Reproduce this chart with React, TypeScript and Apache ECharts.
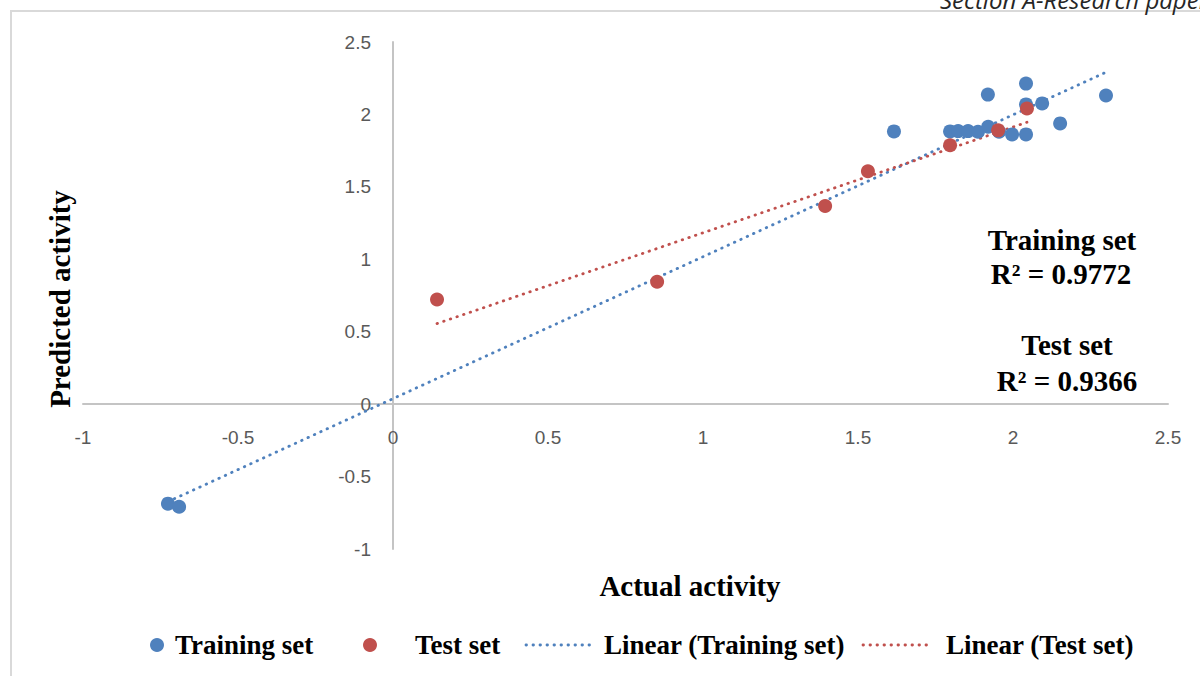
import React, { useEffect, useRef } from "react";
import * as echarts from "echarts";

// ---- data ----
const trainingX = [-0.726, -0.69, 1.616, 1.797, 1.823, 1.855, 1.887, 1.92, 1.919, 1.955, 1.997, 2.042, 2.042, 2.042, 2.094, 2.152, 2.3];
const trainingY = [-0.687, -0.708, 1.883, 1.883, 1.885, 1.885, 1.88, 1.915, 2.137, 1.88, 1.862, 1.862, 2.213, 2.069, 2.076, 1.938, 2.131];
const testX = [0.142, 0.852, 1.394, 1.532, 1.797, 1.952, 2.045];
const testY = [0.722, 0.845, 1.368, 1.608, 1.787, 1.89, 2.041];

const seriesNames = ["Training set", "Test set", "Linear (Training set)", "Linear (Test set)"];
const annotationLines = ["Training set", "R² = 0.9772", "Test set", "R² = 0.9366"];
const xAxisTitle = "Actual activity";
const yAxisTitle = "Predicted activity";
const headerText = "Section A-Research paper";
const axisMin = -1;
const axisMax = 2.5;
const axisStep = 0.5;

const BLUE = "#4f81bd";
const RED = "#c0504d";
const SERIF = "'Liberation Serif', 'Times New Roman', serif";
const SANS = "'Liberation Sans Narrow', 'Liberation Sans', sans-serif";

// grid geometry (pixels)
const GRID_LEFT = 83;
const GRID_RIGHT = 32;
const GRID_TOP = 42;
const GRID_BOTTOM = 127;
const CHART_W = 1200;
const CHART_H = 676;

function fitLine(xs: number[], ys: number[]): number[][] {
  const n = xs.length;
  const mx = xs.reduce((a, b) => a + b, 0) / n;
  const my = ys.reduce((a, b) => a + b, 0) / n;
  let sxy = 0;
  let sxx = 0;
  for (let i = 0; i < n; i++) {
    sxy += (xs[i] - mx) * (ys[i] - my);
    sxx += (xs[i] - mx) * (xs[i] - mx);
  }
  const slope = sxy / sxx;
  const icpt = my - slope * mx;
  const x0 = Math.min(...xs);
  const x1 = Math.max(...xs);
  return [
    [x0, icpt + slope * x0],
    [x1, icpt + slope * x1],
  ];
}

export default function App() {
  const ref = useRef<HTMLDivElement>(null);
  useEffect(() => {
    if (!ref.current) return;
    const chart = echarts.init(ref.current, null, { renderer: "svg" });
    const trainPts = trainingX.map((x, i) => [x, trainingY[i]]);
    const testPts = testX.map((x, i) => [x, testY[i]]);
    const dotted = { width: 2.8, type: [0.5, 6.5] as any, cap: "round" as any };

    // offsets that place each axis at the other axis' zero
    const plotW = CHART_W - GRID_LEFT - GRID_RIGHT;
    const plotH = CHART_H - GRID_TOP - GRID_BOTTOM;
    const yAxisOffset = -((0 - axisMin) / (axisMax - axisMin)) * plotW;
    const xAxisOffset = -((0 - axisMin) / (axisMax - axisMin)) * plotH;

    const legendY = 645;
    const legendText = {
      fontFamily: SERIF,
      fontWeight: "bold" as any,
      fontSize: 27,
      fill: "#000",
      verticalAlign: "middle" as any,
      align: "left" as any,
    };

    chart.setOption({
      animation: false,
      backgroundColor: "#fff",
      grid: { left: GRID_LEFT, right: GRID_RIGHT, top: GRID_TOP, bottom: GRID_BOTTOM, containLabel: false },
      xAxis: {
        type: "value",
        position: "bottom",
        offset: xAxisOffset,
        min: axisMin,
        max: axisMax,
        interval: axisStep,
        axisLine: { show: true, onZero: false, lineStyle: { color: "#c4c4c4", width: 2 } },
        axisTick: { show: false },
        splitLine: { show: false },
        axisLabel: { margin: 24, color: "#595959", fontSize: 19, fontFamily: SANS, showMinLabel: true, showMaxLabel: true },
      },
      yAxis: {
        type: "value",
        position: "left",
        offset: yAxisOffset,
        min: axisMin,
        max: axisMax,
        interval: axisStep,
        axisLine: { show: true, onZero: false, lineStyle: { color: "#c4c4c4", width: 2 } },
        axisTick: { show: false },
        splitLine: { show: false },
        axisLabel: { margin: 22, color: "#595959", fontSize: 19, fontFamily: SANS, showMinLabel: true, showMaxLabel: true },
      },
      series: [
        {
          name: seriesNames[2],
          type: "line",
          data: fitLine(trainingX, trainingY),
          symbol: "none",
          lineStyle: { color: BLUE, ...dotted },
          z: 1,
        },
        {
          name: seriesNames[3],
          type: "line",
          data: fitLine(testX, testY),
          symbol: "none",
          lineStyle: { color: RED, ...dotted },
          z: 1,
        },
        {
          name: seriesNames[0],
          type: "scatter",
          data: trainPts,
          symbol: "circle",
          symbolSize: 14,
          itemStyle: { color: BLUE, opacity: 1 },
          z: 3,
        },
        {
          name: seriesNames[1],
          type: "scatter",
          data: testPts,
          symbol: "circle",
          symbolSize: 14,
          itemStyle: { color: RED, opacity: 1 },
          z: 4,
        },
      ],
      graphic: [
        {
          type: "rect",
          shape: { x: 11, y: 11, width: 1400, height: 900 },
          style: { fill: "none", stroke: "#d9d9d9", lineWidth: 2 },
          silent: true,
        },
        {
          type: "text",
          x: 940,
          y: 11,
          style: {
            text: headerText,
            fontFamily: "'Open Sans', sans-serif",
            fontStyle: "italic",
            fontSize: 24,
            fill: "#262626",
            verticalAlign: "bottom",
            align: "left",
          },
        },
        {
          type: "text",
          x: 690,
          y: 586,
          style: { text: xAxisTitle, fontFamily: SERIF, fontWeight: "bold", fontSize: 29, fill: "#000", align: "center", verticalAlign: "middle" },
        },
        {
          type: "text",
          x: 60,
          y: 299,
          rotation: Math.PI / 2,
          style: { text: yAxisTitle, fontFamily: SERIF, fontWeight: "bold", fontSize: 29, fill: "#000", align: "center", verticalAlign: "middle" },
        },
        {
          type: "text",
          x: 1062,
          y: 240,
          style: { text: annotationLines[0], fontFamily: SERIF, fontWeight: "bold", fontSize: 29, fill: "#000", align: "center", verticalAlign: "middle" },
        },
        {
          type: "text",
          x: 1061,
          y: 274,
          style: { text: annotationLines[1], fontFamily: SERIF, fontWeight: "bold", fontSize: 29, fill: "#000", align: "center", verticalAlign: "middle" },
        },
        {
          type: "text",
          x: 1067,
          y: 345,
          style: { text: annotationLines[2], fontFamily: SERIF, fontWeight: "bold", fontSize: 29, fill: "#000", align: "center", verticalAlign: "middle" },
        },
        {
          type: "text",
          x: 1067,
          y: 381,
          style: { text: annotationLines[3], fontFamily: SERIF, fontWeight: "bold", fontSize: 29, fill: "#000", align: "center", verticalAlign: "middle" },
        },
        // legend
        { type: "circle", shape: { cx: 157, cy: legendY, r: 7 }, style: { fill: BLUE } },
        { type: "text", x: 175, y: legendY, style: { text: seriesNames[0], ...legendText } },
        { type: "circle", shape: { cx: 370, cy: legendY, r: 7 }, style: { fill: RED } },
        { type: "text", x: 415, y: legendY, style: { text: seriesNames[1], ...legendText } },
        {
          type: "line",
          shape: { x1: 526, y1: legendY, x2: 595, y2: legendY },
          style: { stroke: BLUE, lineWidth: 2.8, lineDash: [0.5, 6.5], lineCap: "round" },
        },
        { type: "text", x: 604, y: legendY, style: { text: seriesNames[2], ...legendText } },
        {
          type: "line",
          shape: { x1: 863, y1: legendY, x2: 932, y2: legendY },
          style: { stroke: RED, lineWidth: 2.8, lineDash: [0.5, 6.5], lineCap: "round" },
        },
        { type: "text", x: 946, y: legendY, style: { text: seriesNames[3], ...legendText } },
      ],
    });
    return () => chart.dispose();
  }, []);
  return (
    <div
      ref={ref}
      style={{ position: "absolute", left: 0, top: 0, width: CHART_W, height: CHART_H }}
    />
  );
}
